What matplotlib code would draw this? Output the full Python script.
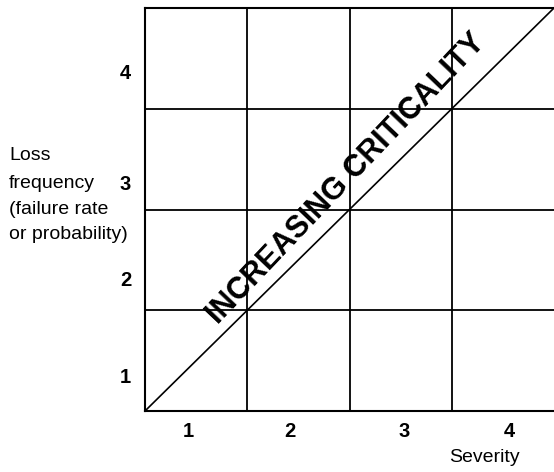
import matplotlib
matplotlib.use("Agg")
import matplotlib.pyplot as plt
import numpy as np

plt.rcParams['font.family'] = ['Liberation Sans', 'DejaVu Sans']

# data
severity_labels = ["1", "2", "3", "4"]
frequency_labels = ["1", "2", "3", "4"]
n_levels = 4
diag_text = "INCREASING CRITICALITY"
ylabel_lines = ["Loss", "frequency", "(failure rate", "or probability)"]
xlabel_text = "Severity"

fig = plt.figure(figsize=(5.54, 4.72), dpi=100)
ax = fig.add_axes([145/554, 1-411/472, 1-145/554, (411-8)/472])
ax.set_xlim(0, n_levels)
ax.set_ylim(0, n_levels)

lw = 1.3
for i in range(1, n_levels):
    ax.axvline(i, color='black', lw=lw)
    ax.axhline(i, color='black', lw=lw)
ax.plot([0, n_levels], [0, n_levels], color='black', lw=1.2, clip_on=False)

for s in ['top', 'bottom', 'left']:
    ax.spines[s].set_linewidth(1.5)
ax.spines['right'].set_visible(False)

centers = np.arange(n_levels) + 0.5
xoff = np.array([-0.08, -0.08, 0.03, 0.06])
yoff = np.array([-0.15, -0.18, -0.23, -0.13])
ax.set_xticks(centers + xoff)
ax.set_xticklabels(severity_labels, fontsize=14.5, fontweight='bold')
ax.set_yticks(centers + yoff)
ax.set_yticklabels(frequency_labels, fontsize=14.5, fontweight='bold')
ax.tick_params(length=0, pad=10)
ax.tick_params(axis='x', pad=8)

# diagonal text
p0 = ax.transData.transform((0, 0))
p1 = ax.transData.transform((n_levels, n_levels))
ang = np.degrees(np.arctan2(p1[1]-p0[1], p1[0]-p0[0]))
ax.text(2.03, 2.255, diag_text, rotation=ang + 1.8, rotation_mode='anchor',
        ha='center', va='baseline', fontsize=22, fontweight='bold')

baselines_px = [160, 188, 214, 239]
for line, yb in zip(ylabel_lines, baselines_px):
    fig.text(9/554, 1-yb/472, line, ha='left', va='baseline', fontsize=14)
fig.text(484/554, 1-458/472, xlabel_text, ha='center', va='center', fontsize=14)

fig.savefig("out.png", dpi=100)
